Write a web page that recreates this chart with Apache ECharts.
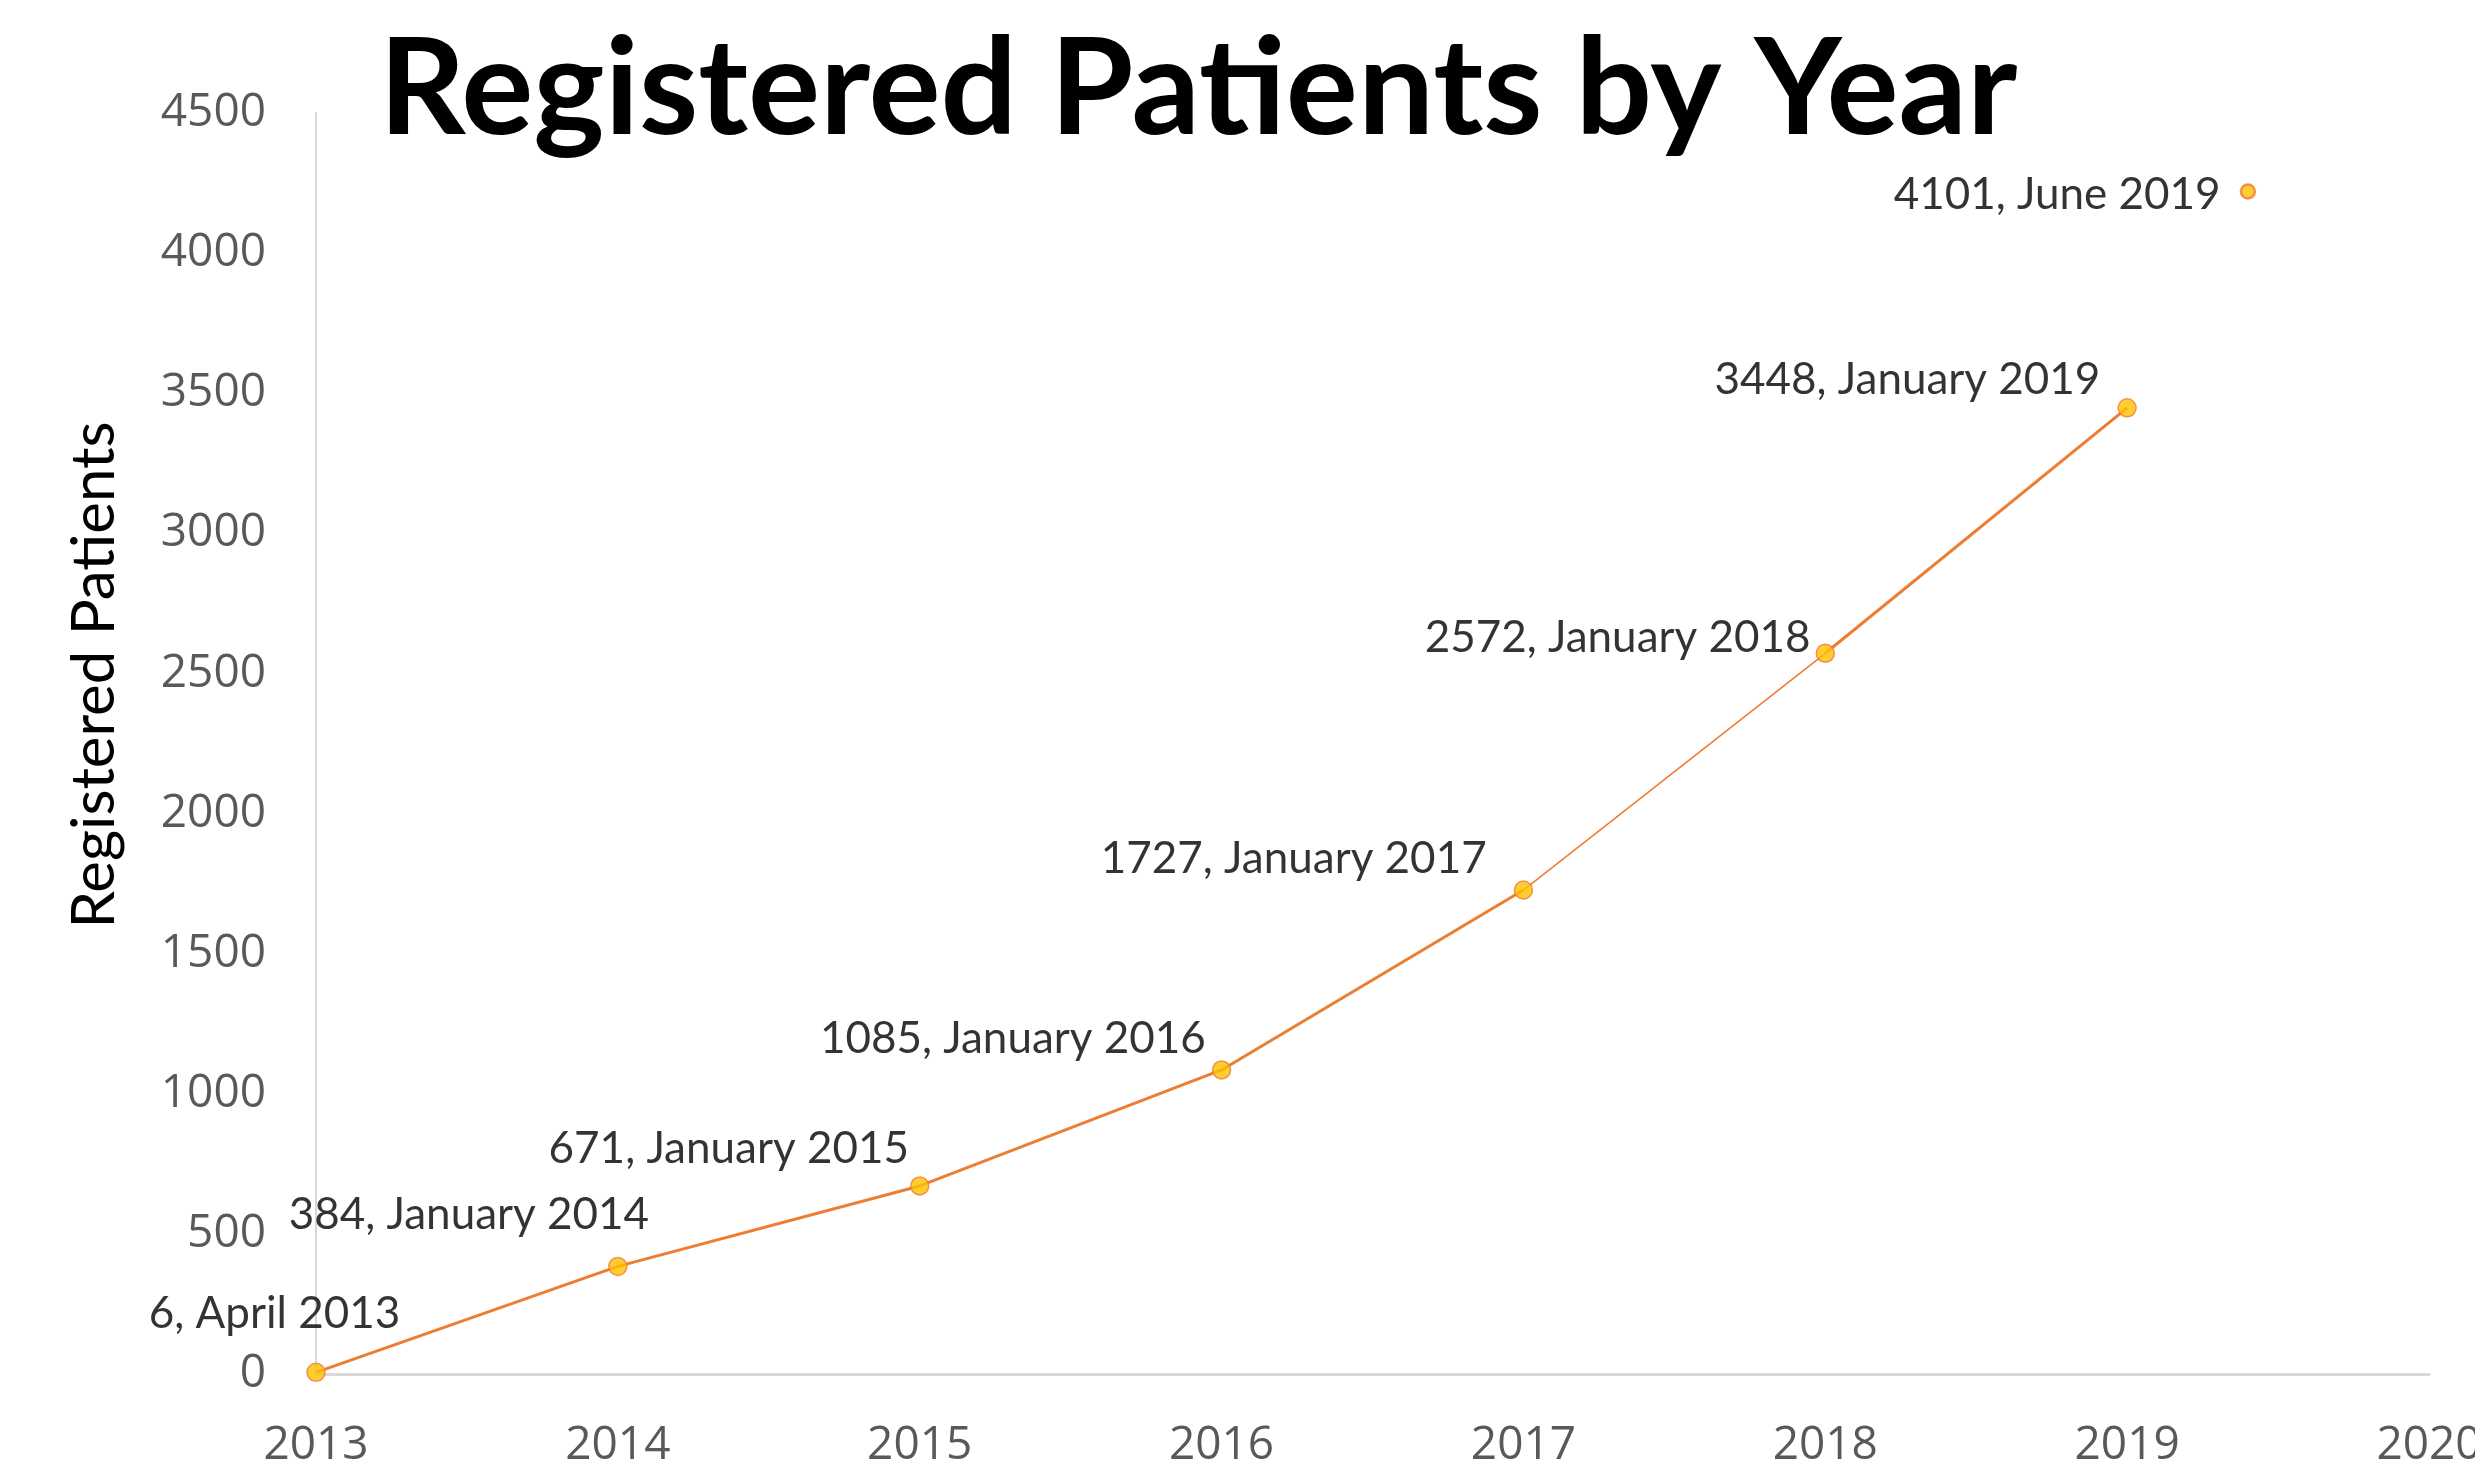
<!DOCTYPE html>
<html>
<head>
<meta charset="utf-8">
<title>Registered Patients by Year</title>
<script src="https://cdn.jsdelivr.net/npm/echarts@6.0.0/dist/echarts.min.js"></script>
<style>
  html, body { margin: 0; padding: 0; background: #fff; }
  #chart { width: 2475px; height: 1476px; }
</style>
</head>
<body>
<div id="chart"></div>
<script>
// data
var years = [2013, 2014, 2015, 2016, 2017, 2018, 2019]
var patients = [6, 384, 671, 1085, 1727, 2572, 3448]
var pointLabels = [
    '6, April 2013',
    '384, January 2014',
    '671, January 2015',
    '1085, January 2016',
    '1727, January 2017',
    '2572, January 2018',
    '3448, January 2019'
]

// the June 2019 point is a separate, unconnected series
var latestYear = [2019.4]
var latestPatients = [4220]
var latestLabels = ['4101, June 2019']

var yTicks = [0, 500, 1000, 1500, 2000, 2500, 3000, 3500, 4000, 4500]
var xTicks = [2013, 2014, 2015, 2016, 2017, 2018, 2019, 2020]

// layout / styling
var orange = '#ED7D31'
var gold = '#FFC000'
var labelFont = 'Lato, "Noto Sans", sans-serif'
var tickFont = '"Open Sans", "Noto Sans", sans-serif'

// the line is thinner between 2017 and 2018 in the original
var segments = [
    {from: 0, to: 4, width: 3},
    {from: 4, to: 5, width: 1.6},
    {from: 5, to: 6, width: 3}
]

// [dx, dy] nudges so the labels sit where Excel put them
var labelOffsets = [[99, -59], [46, -52], [4, -37], [-1, -31], [-22, -31], [0, -15], [-12, -28]]
var latestOffsets = [[-14, 3]]

var chart = echarts.init(document.getElementById('chart'), null, {renderer: 'canvas'})

var series = []

segments.forEach(function (seg) {
    var pts = []
    for (var i = seg.from; i <= seg.to; i++) {
        pts.push([years[i], patients[i]])
    }
    series.push({
        type: 'line',
        data: pts,
        symbol: 'none',
        lineStyle: {color: orange, width: seg.width},
        z: 2,
        silent: true
    })
})

series.push({
    type: 'scatter',
    z: 3,
    symbolSize: 18,
    itemStyle: {color: gold, borderColor: orange, borderWidth: 1.5},
    data: years.map(function (y, i) {
        return {
            value: [y, patients[i]],
            label: {offset: labelOffsets[i]}
        }
    }),
    label: {
        show: true,
        position: 'left',
        distance: 5,
        color: '#000',
        fontFamily: labelFont,
        fontSize: 44,
        formatter: function (p) { return pointLabels[p.dataIndex] }
    }
})

series.push({
    type: 'scatter',
    z: 3,
    symbolSize: 14,
    itemStyle: {color: gold, borderColor: orange, borderWidth: 2.5},
    data: latestYear.map(function (y, i) {
        return {
            value: [y, latestPatients[i]],
            label: {offset: latestOffsets[i]}
        }
    }),
    label: {
        show: true,
        position: 'left',
        distance: 5,
        color: '#000',
        fontFamily: labelFont,
        fontSize: 44,
        formatter: function (p) { return latestLabels[p.dataIndex] }
    }
})

var option = {
    backgroundColor: '#fff',
    animation: false,
    title: {
        text: 'Registered Patients by Year',
        left: 374,
        top: 18,
        textStyle: {
            fontFamily: labelFont,
            fontWeight: 'bold',
            fontSize: 135,
            lineHeight: 135,
            color: '#000'
        }
    },
    // outerBoundsMode off: the 2020 label is allowed to run past the edge, as in the original
    grid: {left: 316, right: 46, top: 113, bottom: 102, containLabel: false, outerBoundsMode: 'none'},
    xAxis: {
        type: 'value',
        min: xTicks[0],
        max: xTicks[xTicks.length - 1],
        interval: 1,
        splitLine: {show: false},
        axisTick: {show: false},
        axisLine: {show: true, lineStyle: {color: '#D9D9D9', width: 3}},
        axisLabel: {
            margin: 49,
            color: '#595959',
            fontFamily: tickFont,
            fontSize: 46,
            formatter: function (v) { return String(v) }
        }
    },
    yAxis: {
        type: 'value',
        min: yTicks[0],
        max: yTicks[yTicks.length - 1],
        interval: 500,
        splitLine: {show: false},
        axisTick: {show: false},
        axisLine: {show: true, lineStyle: {color: '#D9D9D9', width: 2}},
        axisLabel: {
            margin: 50,
            padding: [6, 0, 0, 0],
            color: '#595959',
            fontFamily: tickFont,
            fontSize: 46,
            formatter: function (v) { return String(v) }
        }
    },
    graphic: [{
        // y axis title, set by hand since it is not centred on the axis
        type: 'text',
        x: 95,
        y: 675,
        rotation: Math.PI / 2,
        style: {
            text: 'Registered Patients',
            fontFamily: labelFont,
            fontSize: 60,
            fill: '#000',
            align: 'center',
            verticalAlign: 'middle'
        }
    }],
    series: series
}

chart.setOption(option)
</script>
</body>
</html>
